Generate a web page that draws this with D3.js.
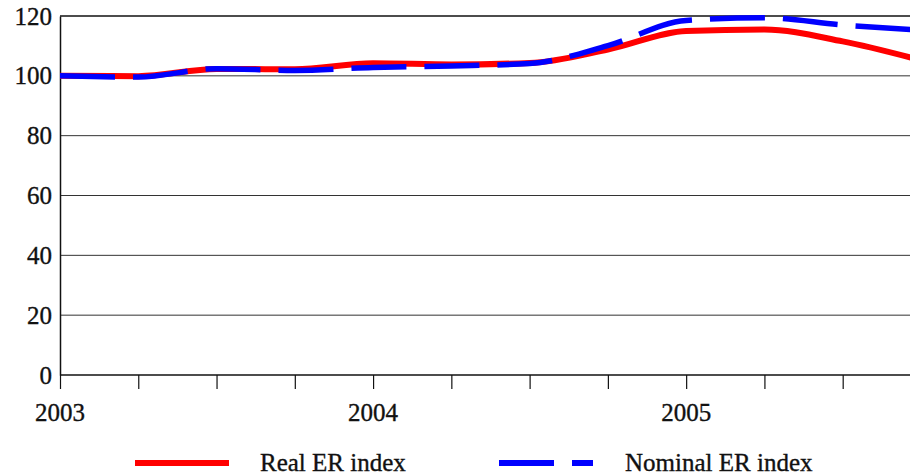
<!DOCTYPE html>
<html>
<head>
<meta charset="utf-8">
<script src="https://cdn.jsdelivr.net/npm/d3@7"></script>
<style>
  body { margin: 0; background: #fff; }
  text { font-family: 'Liberation Serif', 'Times New Roman', serif; fill: #111; stroke: #111; stroke-width: 0.35px; }
</style>
</head>
<body>
<div id="chart"></div>
<script>
// quarterly index, 2003Q1 = 0
const quarters = [0, 1, 2, 3, 4, 5, 6, 7, 8, 9, 10, 11];
const realER = [100, 99.9, 102.3, 102.2, 104.2, 103.8, 104.3, 108.8, 115.0, 115.5, 111.5, 105.2];
const nominalER = [100, 99.6, 102.4, 101.8, 102.8, 103.3, 104.1, 110.1, 118.5, 119.4, 117.0, 115.3];
const yearLabels = [{q: 0, label: "2003"}, {q: 4, label: "2004"}, {q: 8, label: "2005"}];
const yTicks = [0, 20, 40, 60, 80, 100, 120];

let margin = {top: 16, right: 1, bottom: 101, left: 60},
    width = 911 - margin.left - margin.right,
    height = 476 - margin.top - margin.bottom;

let svg = d3.select("#chart")
    .append("svg")
    .attr("width", 911)
    .attr("height", 476)
    .append("g")
    .attr("transform", "translate(" + margin.left + "," + margin.top + ")");

let x = d3.scaleLinear()
    .domain([0, 10.86])
    .range([0, width]);

let y = d3.scaleLinear()
    .domain([0, 120])
    .range([height, 0]);

// horizontal grid
svg.append("g")
    .selectAll("line")
    .data(yTicks)
    .enter()
    .append("line")
    .attr("x1", 0)
    .attr("x2", width)
    .attr("y1", d => y(d))
    .attr("y2", d => y(d))
    .attr("stroke", d => (d === 0 || d === 120) ? "#111" : "#333")
    .attr("stroke-width", d => (d === 0 || d === 120) ? 1.5 : 1);

// y axis
let yAxis = svg.append("g")
    .call(d3.axisLeft(y).tickValues(yTicks).tickSize(0).tickPadding(8));
yAxis.select(".domain").attr("stroke", "#111").attr("stroke-width", 1.5);
yAxis.selectAll("text")
    .style("font-family", "'Liberation Serif', 'Times New Roman', serif")
    .style("font-size", "25px")
    .attr("fill", "#111");

// x axis ticks (quarters)
let xAxis = svg.append("g")
    .attr("transform", "translate(0," + height + ")")
    .call(d3.axisBottom(x).tickValues(d3.range(0, 11)).tickSize(14).tickFormat(""));
xAxis.select(".domain").remove();
xAxis.selectAll("line").attr("stroke", "#111").attr("stroke-width", 1.2);

svg.append("g")
    .selectAll("text")
    .data(yearLabels)
    .enter()
    .append("text")
    .attr("x", d => x(d.q))
    .attr("y", height + 46)
    .attr("text-anchor", "middle")
    .style("font-size", "25px")
    .text(d => d.label);

// clip to plot area
svg.append("clipPath")
    .attr("id", "clip")
    .append("rect")
    .attr("x", 0)
    .attr("y", -5)
    .attr("width", width)
    .attr("height", height + 10);

let line = d3.line()
    .x((d, i) => x(quarters[i]))
    .y(d => y(d))
    .curve(d3.curveMonotoneX);

svg.append("path")
    .datum(realER)
    .attr("clip-path", "url(#clip)")
    .attr("fill", "none")
    .attr("stroke", "#ff0000")
    .attr("stroke-width", 6)
    .attr("d", line);

svg.append("path")
    .datum(nominalER)
    .attr("clip-path", "url(#clip)")
    .attr("fill", "none")
    .attr("stroke", "#0000ff")
    .attr("stroke-width", 5.5)
    .attr("stroke-dasharray", "55,18")
    .attr("d", line);

// legend
let legend = d3.select("svg").append("g");
legend.append("line")
    .attr("x1", 135).attr("x2", 229)
    .attr("y1", 463).attr("y2", 463)
    .attr("stroke", "#ff0000")
    .attr("stroke-width", 6);
legend.append("text")
    .attr("x", 260)
    .attr("y", 471)
    .style("font-size", "25px")
    .text("Real ER index");
legend.append("line")
    .attr("x1", 499).attr("x2", 593)
    .attr("y1", 463).attr("y2", 463)
    .attr("stroke", "#0000ff")
    .attr("stroke-width", 6)
    .attr("stroke-dasharray", "55,18");
legend.append("text")
    .attr("x", 625)
    .attr("y", 471)
    .style("font-size", "25px")
    .text("Nominal ER index");
</script>
</body>
</html>
